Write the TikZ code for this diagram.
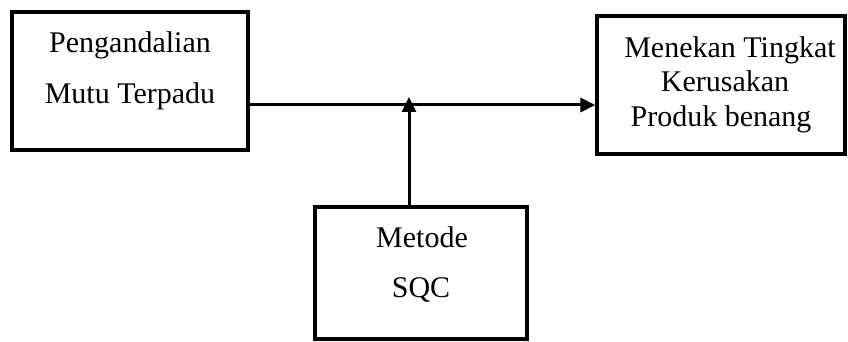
\documentclass[tikz,border=0pt]{standalone}
\usepackage{fontspec}
\setmainfont{Liberation Serif}
\usetikzlibrary{arrows.meta}
\begin{document}
\begin{tikzpicture}[x=1pt,y=-1pt,
  boxst/.style={draw,line width=3.2pt,inner sep=0pt},
  txt/.style={anchor=base,inner sep=0pt,font=\fontsize{30}{36}\selectfont},
  arr/.style={line width=3pt,-{Triangle[length=15pt,width=14pt]}}]
\useasboundingbox (0,0) rectangle (848,342);
\node[boxst,minimum width=236pt,minimum height=138pt] (b1) at (130,81) {};
\node[boxst,minimum width=248pt,minimum height=138pt] (b2) at (721,85) {};
\node[boxst,minimum width=212pt,minimum height=132pt] (b3) at (421,273) {};
\node[txt] (t1) at (130,53) {Pengandalian};
\node[txt] (t2) at (130,103) {Mutu Terpadu};
\node[txt] (t3) at (730,58) {Menekan Tingkat};
\node[txt] (t4) at (725,92) {Kerusakan};
\node[txt] (t5) at (721,126) {Produk benang};
\node[txt] (t6) at (422,247) {Metode};
\node[txt] (t7) at (421,297) {SQC};
\coordinate (j) at (409,105);
\coordinate (jt) at (409,97);
\draw[arr] (b1.east |- j) -- (b2.west |- j);
\draw[arr] (b3.north -| j) -- (jt);
\end{tikzpicture}
\end{document}
